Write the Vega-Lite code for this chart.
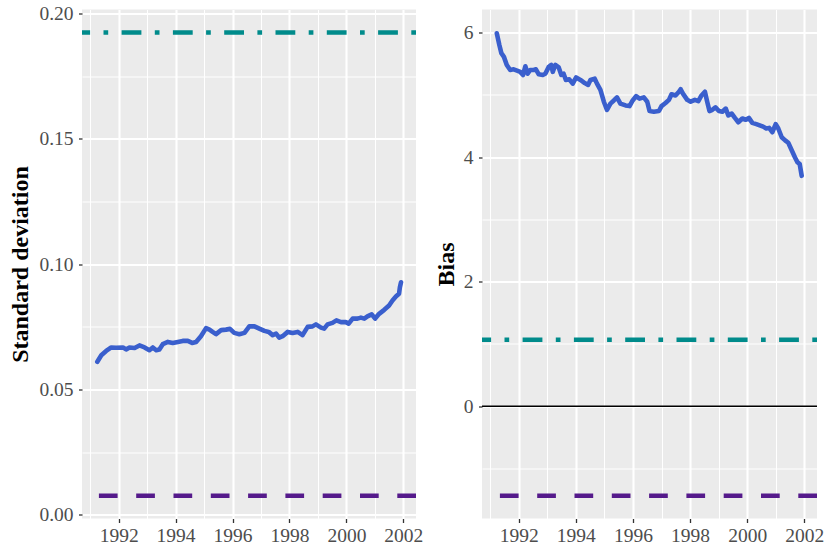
{
  "$schema": "https://vega.github.io/schema/vega-lite/v6.json",
  "background": "white",
  "padding": {"left": 8, "top": 3.5, "right": 0, "bottom": 0},
  "bounds": "flush",
  "spacing": 66,
  "resolve": {"scale": {"color": "independent", "strokeDash": "independent"}},
  "config": {
    "view": {"stroke": null},
    "font": "Liberation Serif",
    "axis": {"labelFont": "Liberation Serif", "titleFont": "Liberation Serif"}
  },
  "datasets": {
    "sd": [
      {"t": 1991.25, "v": 0.0611}, {"t": 1991.39, "v": 0.0637}, {"t": 1991.56, "v": 0.0654}, {"t": 1991.74, "v": 0.0668},
      {"t": 1991.91, "v": 0.0667}, {"t": 1992.15, "v": 0.0668}, {"t": 1992.26, "v": 0.0660}, {"t": 1992.38, "v": 0.0668},
      {"t": 1992.56, "v": 0.0666}, {"t": 1992.73, "v": 0.0676}, {"t": 1992.91, "v": 0.0668}, {"t": 1993.08, "v": 0.0657},
      {"t": 1993.20, "v": 0.0668}, {"t": 1993.32, "v": 0.0657}, {"t": 1993.43, "v": 0.0660}, {"t": 1993.55, "v": 0.0681},
      {"t": 1993.73, "v": 0.0690}, {"t": 1993.90, "v": 0.0686}, {"t": 1994.08, "v": 0.0690}, {"t": 1994.25, "v": 0.0694},
      {"t": 1994.43, "v": 0.0694}, {"t": 1994.58, "v": 0.0686}, {"t": 1994.72, "v": 0.0690}, {"t": 1994.89, "v": 0.0713},
      {"t": 1995.07, "v": 0.0745}, {"t": 1995.19, "v": 0.0739}, {"t": 1995.30, "v": 0.0730}, {"t": 1995.42, "v": 0.0721},
      {"t": 1995.60, "v": 0.0737}, {"t": 1995.77, "v": 0.0739}, {"t": 1995.91, "v": 0.0742}, {"t": 1996.06, "v": 0.0726},
      {"t": 1996.24, "v": 0.0721}, {"t": 1996.42, "v": 0.0726}, {"t": 1996.59, "v": 0.0752}, {"t": 1996.77, "v": 0.0752},
      {"t": 1996.94, "v": 0.0743}, {"t": 1997.12, "v": 0.0734}, {"t": 1997.27, "v": 0.0730}, {"t": 1997.41, "v": 0.0717},
      {"t": 1997.53, "v": 0.0723}, {"t": 1997.64, "v": 0.0707}, {"t": 1997.76, "v": 0.0713}, {"t": 1997.94, "v": 0.0730},
      {"t": 1998.11, "v": 0.0726}, {"t": 1998.29, "v": 0.0730}, {"t": 1998.46, "v": 0.0717}, {"t": 1998.64, "v": 0.0750},
      {"t": 1998.81, "v": 0.0752}, {"t": 1998.93, "v": 0.0760}, {"t": 1999.11, "v": 0.0747}, {"t": 1999.22, "v": 0.0743},
      {"t": 1999.34, "v": 0.0760}, {"t": 1999.51, "v": 0.0766}, {"t": 1999.65, "v": 0.0776}, {"t": 1999.81, "v": 0.0769},
      {"t": 1999.98, "v": 0.0769}, {"t": 2000.08, "v": 0.0763}, {"t": 2000.22, "v": 0.0783}, {"t": 2000.39, "v": 0.0783},
      {"t": 2000.51, "v": 0.0787}, {"t": 2000.63, "v": 0.0783}, {"t": 2000.74, "v": 0.0792}, {"t": 2000.89, "v": 0.0800},
      {"t": 2001.01, "v": 0.0783}, {"t": 2001.15, "v": 0.0802}, {"t": 2001.33, "v": 0.0818}, {"t": 2001.50, "v": 0.0835},
      {"t": 2001.62, "v": 0.0855}, {"t": 2001.74, "v": 0.0871}, {"t": 2001.85, "v": 0.0882}, {"t": 2001.88, "v": 0.0908},
      {"t": 2001.92, "v": 0.0928}
    ],
    "sd_refs": [
      {"kind": "upper", "v": 0.1924},
      {"kind": "lower", "v": 0.0076}
    ],
    "bias": [
      {"t": 1991.23, "v": 5.99}, {"t": 1991.32, "v": 5.80}, {"t": 1991.39, "v": 5.67}, {"t": 1991.48, "v": 5.61},
      {"t": 1991.58, "v": 5.48}, {"t": 1991.70, "v": 5.40}, {"t": 1991.82, "v": 5.41}, {"t": 1991.94, "v": 5.39},
      {"t": 1992.05, "v": 5.37}, {"t": 1992.15, "v": 5.32}, {"t": 1992.23, "v": 5.46}, {"t": 1992.31, "v": 5.34},
      {"t": 1992.40, "v": 5.40}, {"t": 1992.52, "v": 5.40}, {"t": 1992.60, "v": 5.41}, {"t": 1992.70, "v": 5.33},
      {"t": 1992.84, "v": 5.32}, {"t": 1992.93, "v": 5.34}, {"t": 1993.05, "v": 5.45}, {"t": 1993.14, "v": 5.48},
      {"t": 1993.19, "v": 5.37}, {"t": 1993.28, "v": 5.48}, {"t": 1993.40, "v": 5.44}, {"t": 1993.49, "v": 5.32},
      {"t": 1993.57, "v": 5.34}, {"t": 1993.65, "v": 5.24}, {"t": 1993.77, "v": 5.25}, {"t": 1993.89, "v": 5.18},
      {"t": 1994.01, "v": 5.28}, {"t": 1994.16, "v": 5.24}, {"t": 1994.31, "v": 5.19}, {"t": 1994.43, "v": 5.16},
      {"t": 1994.51, "v": 5.24}, {"t": 1994.66, "v": 5.26}, {"t": 1994.74, "v": 5.18}, {"t": 1994.86, "v": 5.08},
      {"t": 1994.98, "v": 4.89}, {"t": 1995.09, "v": 4.76}, {"t": 1995.21, "v": 4.86}, {"t": 1995.33, "v": 4.91},
      {"t": 1995.44, "v": 4.96}, {"t": 1995.56, "v": 4.86}, {"t": 1995.74, "v": 4.83}, {"t": 1995.88, "v": 4.82},
      {"t": 1995.99, "v": 4.91}, {"t": 1996.11, "v": 4.98}, {"t": 1996.23, "v": 4.94}, {"t": 1996.38, "v": 4.96},
      {"t": 1996.50, "v": 4.89}, {"t": 1996.58, "v": 4.74}, {"t": 1996.73, "v": 4.73}, {"t": 1996.91, "v": 4.74},
      {"t": 1997.00, "v": 4.82}, {"t": 1997.14, "v": 4.87}, {"t": 1997.26, "v": 4.92}, {"t": 1997.35, "v": 5.01},
      {"t": 1997.49, "v": 4.99}, {"t": 1997.61, "v": 5.05}, {"t": 1997.67, "v": 5.09}, {"t": 1997.75, "v": 5.02},
      {"t": 1997.90, "v": 4.92}, {"t": 1998.02, "v": 4.89}, {"t": 1998.17, "v": 4.92}, {"t": 1998.29, "v": 4.90},
      {"t": 1998.40, "v": 4.99}, {"t": 1998.52, "v": 5.05}, {"t": 1998.60, "v": 4.89}, {"t": 1998.68, "v": 4.74},
      {"t": 1998.78, "v": 4.76}, {"t": 1998.89, "v": 4.80}, {"t": 1999.01, "v": 4.74}, {"t": 1999.13, "v": 4.73},
      {"t": 1999.25, "v": 4.78}, {"t": 1999.34, "v": 4.67}, {"t": 1999.46, "v": 4.70}, {"t": 1999.57, "v": 4.63},
      {"t": 1999.69, "v": 4.56}, {"t": 1999.83, "v": 4.62}, {"t": 1999.95, "v": 4.60}, {"t": 2000.06, "v": 4.63},
      {"t": 2000.18, "v": 4.55}, {"t": 2000.32, "v": 4.53}, {"t": 2000.44, "v": 4.51}, {"t": 2000.56, "v": 4.49},
      {"t": 2000.67, "v": 4.46}, {"t": 2000.77, "v": 4.47}, {"t": 2000.88, "v": 4.40}, {"t": 2001.00, "v": 4.53},
      {"t": 2001.09, "v": 4.46}, {"t": 2001.21, "v": 4.32}, {"t": 2001.33, "v": 4.27}, {"t": 2001.44, "v": 4.23},
      {"t": 2001.56, "v": 4.11}, {"t": 2001.68, "v": 3.99}, {"t": 2001.76, "v": 3.92}, {"t": 2001.84, "v": 3.89},
      {"t": 2001.91, "v": 3.70}
    ],
    "bias_refs": [
      {"kind": "upper", "v": 1.068},
      {"kind": "lower", "v": -1.437}
    ],
    "bias_zero": [
      {"kind": "zero", "v": 0}
    ]
  },
  "hconcat": [
    {
      "width": 334,
      "height": 509,
      "view": {"fill": "#EBEBEB", "stroke": null},
      "encoding": {
        "y": {
          "field": "v", "type": "quantitative",
          "scale": {"domain": [-0.00144, 0.2016], "nice": false, "zero": false},
          "axis": {
            "title": "Standard deviation",
            "titleFont": "Liberation Serif", "titleFontSize": 24, "titleFontWeight": "bold", "titleColor": "black", "titlePadding": 6,
            "values": [0, 0.025, 0.05, 0.075, 0.1, 0.125, 0.15, 0.175, 0.2],
            "format": ".2f",
            "labelExpr": "round(datum.value * 40) % 2 === 1 ? '' : datum.label",
            "domain": false,
            "grid": true, "gridColor": "white",
            "gridWidth": {"condition": {"test": "round(datum.value * 40) % 2 === 1", "value": 1.05}, "value": 2.1},
            "tickOpacity": {"condition": {"test": "round(datum.value * 40) % 2 === 1", "value": 0}, "value": 1},
            "tickColor": "#333333", "tickSize": 3.5, "tickWidth": 1.3,
            "labelFont": "Liberation Serif", "labelFontSize": 19.5, "labelColor": "#4D4D4D", "labelPadding": 5.5,
            "labelFlush": false, "labelOverlap": false
          }
        }
      },
      "layer": [
        {
          "data": {"name": "sd"},
          "mark": {"type": "line", "color": "#3A5FCD", "strokeWidth": 4.6, "strokeJoin": "round", "strokeCap": "round"},
          "encoding": {
            "x": {
              "field": "t", "type": "quantitative",
              "scale": {"domain": [1990.712, 2002.446], "nice": false, "zero": false},
              "axis": {
                "title": null,
                "values": [1991, 1992, 1993, 1994, 1995, 1996, 1997, 1998, 1999, 2000, 2001, 2002],
                "format": "d",
                "labelExpr": "datum.value % 2 === 1 ? '' : datum.label",
                "domain": false,
                "grid": true, "gridColor": "white",
                "gridWidth": {"condition": {"test": "datum.value % 2 === 1", "value": 1.05}, "value": 2.1},
                "tickOpacity": {"condition": {"test": "datum.value % 2 === 1", "value": 0}, "value": 1},
                "tickColor": "#333333", "tickSize": 4, "tickWidth": 1.3,
                "labelFont": "Liberation Serif", "labelFontSize": 19.5, "labelColor": "#4D4D4D", "labelPadding": 3.5,
                "labelFlush": false, "labelOverlap": false
              }
            }
          }
        },
        {
          "data": {"name": "sd_refs"},
          "mark": {"type": "rule", "strokeWidth": 4.5, "strokeCap": "butt"},
          "encoding": {
            "color": {"field": "kind", "type": "nominal", "scale": {"domain": ["upper", "lower"], "range": ["#008B8B", "#551A8B"]}, "legend": null},
            "strokeDash": {"field": "kind", "type": "nominal", "scale": {"domain": ["upper", "lower"], "range": [[4.7, 13.4, 19.8, 13.4], [18.7, 18.6]]}, "legend": null}
          }
        }
      ]
    },
    {
      "width": 335,
      "height": 509,
      "view": {"fill": "#EBEBEB", "stroke": null},
      "encoding": {
        "y": {
          "field": "v", "type": "quantitative",
          "scale": {"domain": [-1.803, 6.371], "nice": false, "zero": false},
          "axis": {
            "title": "Bias",
            "titleFont": "Liberation Serif", "titleFontSize": 24, "titleFontWeight": "bold", "titleColor": "black", "titlePadding": 5,
            "values": [-1, 0, 1, 2, 3, 4, 5, 6],
            "format": "d",
            "labelExpr": "abs(datum.value) % 2 === 1 ? '' : datum.label",
            "domain": false,
            "grid": true, "gridColor": "white",
            "gridWidth": {"condition": {"test": "abs(datum.value) % 2 === 1", "value": 1.05}, "value": 2.1},
            "tickOpacity": {"condition": {"test": "abs(datum.value) % 2 === 1", "value": 0}, "value": 1},
            "tickColor": "#333333", "tickSize": 3.5, "tickWidth": 1.3,
            "labelFont": "Liberation Serif", "labelFontSize": 19.5, "labelColor": "#4D4D4D", "labelPadding": 5.5,
            "labelFlush": false, "labelOverlap": false
          }
        }
      },
      "layer": [
        {
          "data": {"name": "bias"},
          "mark": {"type": "line", "color": "#3A5FCD", "strokeWidth": 4.6, "strokeJoin": "round", "strokeCap": "round"},
          "encoding": {
            "x": {
              "field": "t", "type": "quantitative",
              "scale": {"domain": [1990.712, 2002.446], "nice": false, "zero": false},
              "axis": {
                "title": null,
                "values": [1991, 1992, 1993, 1994, 1995, 1996, 1997, 1998, 1999, 2000, 2001, 2002],
                "format": "d",
                "labelExpr": "datum.value % 2 === 1 ? '' : datum.label",
                "domain": false,
                "grid": true, "gridColor": "white",
                "gridWidth": {"condition": {"test": "datum.value % 2 === 1", "value": 1.05}, "value": 2.1},
                "tickOpacity": {"condition": {"test": "datum.value % 2 === 1", "value": 0}, "value": 1},
                "tickColor": "#333333", "tickSize": 4, "tickWidth": 1.3,
                "labelFont": "Liberation Serif", "labelFontSize": 19.5, "labelColor": "#4D4D4D", "labelPadding": 3.5,
                "labelFlush": false, "labelOverlap": false
              }
            }
          }
        },
        {
          "data": {"name": "bias_zero"},
          "mark": {"type": "rule", "strokeWidth": 1.4, "color": "#000000"},
          "encoding": {}
        },
        {
          "data": {"name": "bias_refs"},
          "mark": {"type": "rule", "strokeWidth": 4.5, "strokeCap": "butt"},
          "encoding": {
            "color": {"field": "kind", "type": "nominal", "scale": {"domain": ["upper", "lower"], "range": ["#008B8B", "#551A8B"]}, "legend": null},
            "strokeDash": {"field": "kind", "type": "nominal", "scale": {"domain": ["upper", "lower"], "range": [[4.7, 13.4, 19.8, 13.4], [18.7, 18.6]]}, "legend": null}
          }
        }
      ]
    }
  ]
}
